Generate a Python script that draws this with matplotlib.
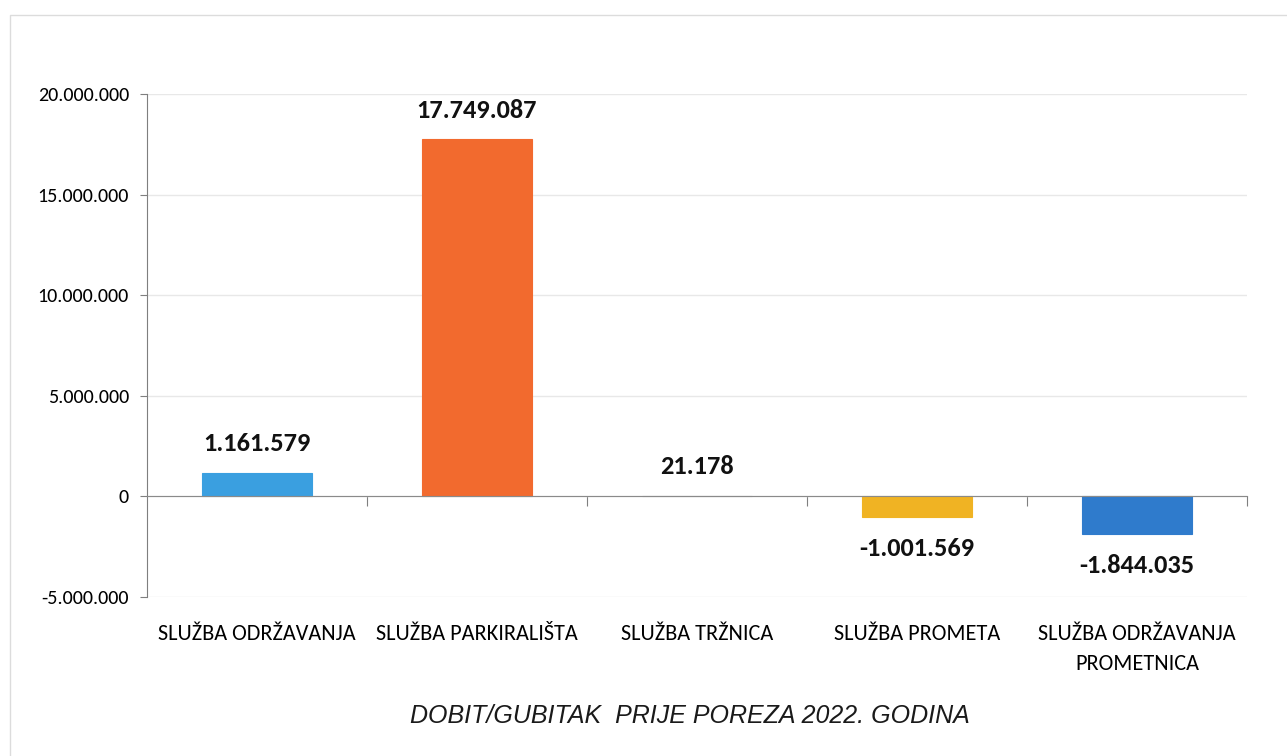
import matplotlib
matplotlib.use('Agg')
import matplotlib.pyplot as plt
from matplotlib import font_manager
from matplotlib.patches import Rectangle
from matplotlib.ticker import FuncFormatter, MultipleLocator

categories = ['SLUŽBA ODRŽAVANJA', 'SLUŽBA PARKIRALIŠTA', 'SLUŽBA TRŽNICA',
              'SLUŽBA PROMETA', 'SLUŽBA ODRŽAVANJA\nPROMETNICA']
values = [1161579, 17749087, 21178, -1001569, -1844035]
colors = ['#3a9fe0', '#f26a2e', '#8f8f8f', '#f0b323', '#2f7bcc']
title = 'DOBIT/GUBITAK  PRIJE POREZA 2022. GODINA'

# Calibri zamjena ako postoji
avail = {f.name for f in font_manager.fontManager.ttflist}
main = [f for f in ['Carlito', 'Liberation Sans Narrow', 'Fira Sans Condensed']
        if f in avail][:1] + ['DejaVu Sans']
plt.rcParams['font.family'] = main


def dots(v):
    return f'{int(v):,}'.replace(',', '.')


fig = plt.figure(figsize=(12.87, 7.56), dpi=100)
ax = fig.add_axes([0.1142, 0.2103, 0.8548, 0.6654])

# okvir oko grafikona
fig.patches.append(Rectangle((10 / 1287, -0.01), 1.02, 1 - 15 / 756 + 0.01,
                             transform=fig.transFigure, fill=False,
                             edgecolor='#dcdcdc', linewidth=1.0))

x = range(len(values))
bars = ax.bar(x, values, width=0.5, color=colors, edgecolor=colors,
              linewidth=0.8, zorder=3)

ax.set_xlim(-0.5, len(values) - 0.5)
ax.set_ylim(-5000000, 20000000)
ax.yaxis.set_major_locator(MultipleLocator(5000000))
ax.yaxis.set_major_formatter(FuncFormatter(lambda v, p: dots(v)))
ax.grid(axis='y', color='#e8e8e8', linewidth=1, zorder=0)

for s in ['top', 'right']:
    ax.spines[s].set_visible(False)
ax.spines['left'].set_color('#7f7f7f')
ax.spines['bottom'].set_position(('data', 0))
ax.spines['bottom'].set_color('#8a8a8a')
ax.spines['bottom'].set_zorder(4)

ax.set_xticks([i + 0.5 for i in x])
ax.set_xticklabels([])
ax.tick_params(axis='x', direction='out', length=7, color='#7f7f7f')
ax.tick_params(axis='y', direction='out', length=5, color='#7f7f7f',
               labelsize=14.5, pad=8)

# kategorije ispod grafikona
for i, c in enumerate(categories):
    ax.text(i, -0.054, c, transform=ax.get_xaxis_transform(), ha='center',
            va='top', fontsize=16, linespacing=1.6)

# vrijednosti
for b, v in zip(bars, values):
    off = 21 if v >= 0 else -23
    ax.annotate(dots(v), (b.get_x() + b.get_width() / 2, v),
                xytext=(0, off), textcoords='offset points', ha='center',
                va='center', fontsize=19, fontweight='bold', color='#111111')

fig.text(0.536, 1 - 716 / 756, title, ha='center', va='center', fontsize=18,
         style='italic', family=['Liberation Sans', 'DejaVu Sans'],
         color='#1a1a1a')

plt.savefig('out.png', dpi=100)
